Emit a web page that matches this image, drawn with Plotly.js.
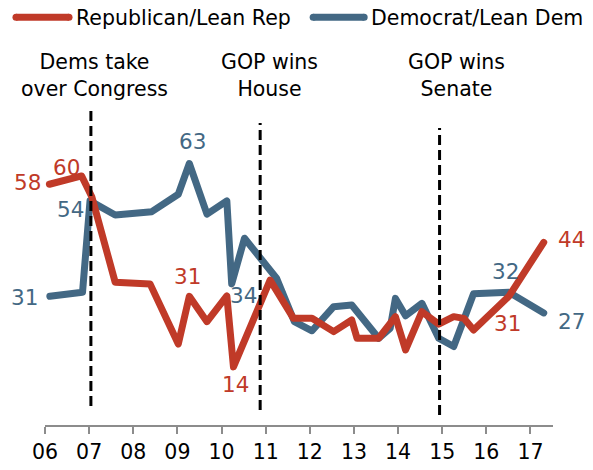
<!DOCTYPE html>
<html>
<head>
<meta charset="utf-8">
<script src="https://cdn.plot.ly/plotly-3.0.1.min.js"></script>
<style>
html,body{margin:0;padding:0;background:#fff;}
#chart{width:593px;height:470px;}
.scatterlayer path.js-line{stroke-linejoin:round;stroke-linecap:round;}
</style>
</head>
<body>
<div id="chart"></div>
<script>
// ---- data ----
const demDates = [2006.11, 2006.85, 2007.02, 2007.59, 2008.42, 2009.02, 2009.27, 2009.67, 2010.12, 2010.23, 2010.52, 2011.25, 2011.65, 2012.05, 2012.54, 2012.95, 2013.56, 2013.82, 2013.94, 2014.17, 2014.54, 2014.92, 2015.26, 2015.71, 2016.51, 2017.30];
const demValues = [31, 32, 54, 50.6, 51.4, 55.6, 63, 50.8, 54, 34, 45, 35.3, 24.9, 22.7, 28.5, 28.9, 20.9, 23.3, 30.5, 26.3, 29.3, 20.9, 18.9, 31.6, 32, 27];
const repDates = [2006.10, 2006.83, 2007.06, 2007.59, 2008.38, 2009.02, 2009.27, 2009.67, 2010.12, 2010.27, 2011.10, 2011.63, 2012.05, 2012.54, 2012.95, 2013.07, 2013.56, 2013.94, 2014.17, 2014.54, 2014.92, 2015.26, 2015.49, 2015.71, 2016.51, 2017.30];
const repValues = [58, 60, 55, 34.4, 34.0, 19.5, 31, 24.9, 31.1, 14, 34.9, 25.7, 25.7, 22.5, 25.3, 20.9, 20.9, 26.1, 18.1, 27.3, 24.3, 26.1, 25.7, 22.9, 31, 44];
const tickYears = [2006, 2007, 2008, 2009, 2010, 2011, 2012, 2013, 2014, 2015, 2016, 2017];
const tickLabels = ['06', '07', '08', '09', '10', '11', '12', '13', '14', '15', '16', '17'];
const seriesNames = ['Republican/Lean Rep', 'Democrat/Lean Dem'];
const eventDates = [2007.04, 2010.875, 2014.94];
const eventLabels = ['Dems take<br>over Congress', 'GOP wins<br>House', 'GOP wins<br>Senate'];
// labelled points: [series, index, xshift, yshift]
const labelledPoints = [
  ['rep', 0, -22, 2], ['rep', 1, -15, 8], ['rep', 6, -2, 19.5], ['rep', 9, 2, -18],
  ['rep', 24, -1, -27], ['rep', 25, 28, 2.4],
  ['dem', 0, -25, -0.7], ['dem', 2, -20, -9], ['dem', 6, 3, 22.5], ['dem', 9, 12, -12],
  ['dem', 24, -3, 20.7], ['dem', 25, 28, -8.6]
];

// ---- style ----
const RED = '#c03a28';
const BLUE = '#436884';
const FONT = 'DejaVu Sans';
const W = 593, H = 470;
const ML = 45, MR = 40.3, MT = 100, MB = 45;
const PW = W - ML - MR, PH = H - MT - MB;
const px = x => (x - ML) / PW;           // pixel -> paper x
const py = y => (H - MB - y) / PH;       // pixel -> paper y

const traces = [
  {x: demDates, y: demValues, name: seriesNames[1], type: 'scatter', mode: 'lines',
   line: {color: BLUE, width: 7}, hoverinfo: 'skip'},
  {x: repDates, y: repValues, name: seriesNames[0], type: 'scatter', mode: 'lines',
   line: {color: RED, width: 7}, hoverinfo: 'skip'}
];

const shapes = [];
const dashY = [[110, 406], [123, 410], [128, 415]];
eventDates.forEach((d, i) => {
  shapes.push({type: 'line', xref: 'x', yref: 'paper', x0: d, x1: d,
    y0: py(dashY[i][1]), y1: py(dashY[i][0]),
    line: {color: '#000', width: 3, dash: '10px,5px'}});
});
// legend samples
shapes.push({type: 'line', xref: 'paper', yref: 'paper', x0: px(16), x1: px(69), y0: py(17.3), y1: py(17.3), line: {color: RED, width: 7}});
shapes.push({type: 'circle', xref: 'paper', yref: 'paper', x0: px(12.5), x1: px(19.5), y0: py(20.8), y1: py(13.8), fillcolor: RED, line: {width: 0}});
shapes.push({type: 'circle', xref: 'paper', yref: 'paper', x0: px(65.5), x1: px(72.5), y0: py(20.8), y1: py(13.8), fillcolor: RED, line: {width: 0}});
shapes.push({type: 'line', xref: 'paper', yref: 'paper', x0: px(313), x1: px(364), y0: py(17.3), y1: py(17.3), line: {color: BLUE, width: 7}});
shapes.push({type: 'circle', xref: 'paper', yref: 'paper', x0: px(309.5), x1: px(316.5), y0: py(20.8), y1: py(13.8), fillcolor: BLUE, line: {width: 0}});
shapes.push({type: 'circle', xref: 'paper', yref: 'paper', x0: px(360.5), x1: px(367.5), y0: py(20.8), y1: py(13.8), fillcolor: BLUE, line: {width: 0}});

const annotations = [];
annotations.push({xref: 'paper', yref: 'paper', x: px(74), y: py(18), xanchor: 'left', yanchor: 'middle',
  text: seriesNames[0], showarrow: false, font: {family: FONT, size: 20.5, color: '#000'}});
annotations.push({xref: 'paper', yref: 'paper', x: px(369.3), y: py(18), xanchor: 'left', yanchor: 'middle',
  text: seriesNames[1], showarrow: false, font: {family: FONT, size: 20.5, color: '#000'}});
const eventCenters = [94.4, 269.5, 456.6];
eventLabels.forEach((t, i) => {
  annotations.push({xref: 'paper', yref: 'paper', x: px(eventCenters[i]), y: py(76), xanchor: 'center', yanchor: 'middle',
    text: t, showarrow: false, align: 'center', font: {family: FONT, size: 20.5, color: '#000'}});
});
labelledPoints.forEach(([s, i, dx, dy]) => {
  const xs = s === 'rep' ? repDates : demDates;
  const ys = s === 'rep' ? repValues : demValues;
  annotations.push({xref: 'x', yref: 'y', x: xs[i], y: ys[i], xshift: dx, yshift: dy,
    xanchor: 'center', yanchor: 'middle', text: String(Math.round(ys[i])), showarrow: false,
    font: {family: FONT, size: 21.5, color: s === 'rep' ? RED : BLUE}});
});

const layout = {
  width: W, height: H,
  margin: {l: ML, r: MR, t: MT, b: MB, pad: 0},
  paper_bgcolor: '#fff', plot_bgcolor: '#fff',
  showlegend: false,
  xaxis: {range: [2006, 2017.51], tickvals: tickYears, ticktext: tickLabels,
    showgrid: false, zeroline: false, showline: true, linecolor: '#8c8c8c', linewidth: 2,
    ticks: 'outside', ticklen: 7, tickwidth: 2, tickcolor: '#8c8c8c',
    tickfont: {family: FONT, size: 20.5, color: '#000'}, fixedrange: true},
  yaxis: {range: [0, 78.3], visible: false, fixedrange: true},
  shapes: shapes,
  annotations: annotations
};

Plotly.newPlot('chart', traces, layout, {displayModeBar: false, staticPlot: true});
</script>
</body>
</html>
